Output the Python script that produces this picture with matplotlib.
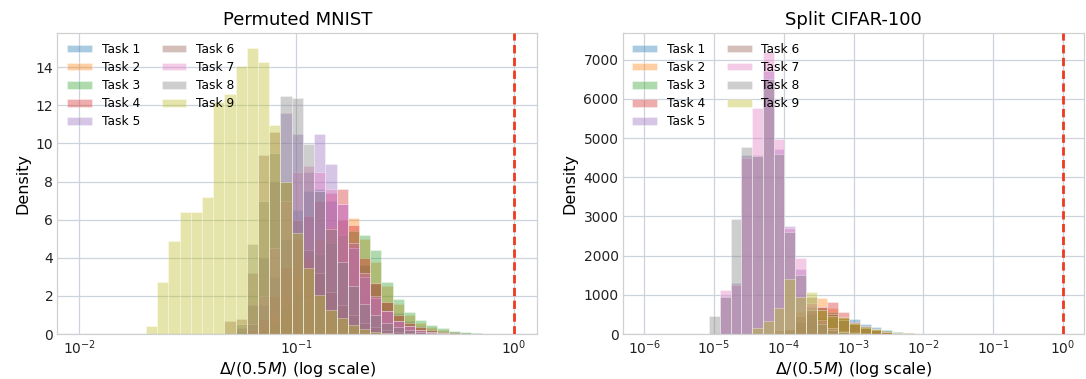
import numpy as np
import matplotlib
matplotlib.use("Agg")
import matplotlib.pyplot as plt

tasks = ["Task 1", "Task 2", "Task 3", "Task 4", "Task 5", "Task 6", "Task 7", "Task 8", "Task 9"]
colors = ["#1f77b4", "#ff7f0e", "#2ca02c", "#d62728", "#9467bd", "#8c564b", "#e377c2", "#7f7f7f", "#bcbd22"]

# ---- Permuted MNIST: 30 log-spaced bins (log10 edge start / width) ----
mnist_log_start = -1.693
mnist_log_width = 0.0516
mnist_t1 = [0, 0, 0, 0, 0, 0, 0, 0, 0.1, 0.5, 1.5, 3.0, 5.0, 6.5, 7.5, 7.6, 7.0, 6.0, 4.8, 3.6, 2.6, 1.7, 1.1, 0.7, 0.4, 0.25, 0.15, 0.08, 0.05, 0.03]
mnist_t2 = [0, 0, 0, 0, 0, 0, 0, 0, 0, 0.1, 0.4, 1.0, 2.0, 3.0, 4.0, 5.0, 5.6, 6.0, 6.1, 5.0, 3.8, 2.5, 1.6, 1.0, 0.6, 0.35, 0.2, 0.1, 0.05, 0.02]
mnist_t3 = [0, 0, 0, 0, 0, 0, 0, 0, 0, 0, 0.2, 0.6, 1.4, 2.4, 3.4, 4.2, 4.8, 5.2, 5.4, 5.2, 4.4, 2.72, 1.84, 1.14, 0.74, 0.47, 0.33, 0.18, 0.1, 0.07]
mnist_t4 = [0, 0, 0, 0, 0, 0, 0, 0, 0, 0.2, 0.8, 2.0, 3.5, 5.0, 6.2, 7.0, 7.4, 7.6, 5.7, 4.0, 2.7, 1.7, 1.0, 0.6, 0.35, 0.2, 0.1, 0.05, 0.02, 0]
mnist_t5 = [0, 0, 0, 0, 0, 0, 0, 0, 0.3, 1.5, 4.0, 8.0, 11.6, 10.5, 8.5, 10.5, 8.9, 6.8, 4.5, 3.0, 1.9, 1.2, 0.7, 0.4, 0.2, 0.1, 0.05, 0, 0, 0]
mnist_t6 = [0, 0, 0, 0, 0, 0, 0, 0.7, 0.8, 3.2, 9.4, 10.6, 8.0, 6.0, 4.4, 3.2, 2.2, 1.5, 1.0, 0.6, 0.35, 0.2, 0.1, 0.05, 0, 0, 0, 0, 0, 0]
mnist_t7 = [0, 0, 0, 0, 0, 0, 0, 0, 0, 0.5, 2.0, 4.5, 7.0, 8.5, 8.8, 8.5, 7.6, 6.8, 4.8, 3.2, 2.0, 1.2, 0.7, 0.4, 0.2, 0.1, 0.05, 0, 0, 0]
mnist_t8 = [0, 0, 0, 0, 0, 0, 0, 0, 0.5, 4.7, 7.0, 9.5, 12.5, 12.4, 9.95, 7.5, 5.5, 3.8, 2.5, 1.6, 1.0, 0.6, 0.35, 0.2, 0.1, 0.05, 0, 0, 0, 0]
mnist_t9 = [0.44, 2.72, 4.86, 6.39, 6.39, 7.18, 12.18, 12.58, 14.07, 15.03, 14.28, 10.96, 8.0, 5.3, 3.46, 2.05, 1.26, 0.86, 0.45, 0.25, 0.12, 0.06, 0, 0, 0, 0, 0, 0, 0, 0]

# ---- Split CIFAR-100: 20 log-spaced bins ----
cifar_log_start = -5.073
cifar_log_width = 0.1543
cifar_t1 = [0, 0, 0, 0, 0, 0, 0, 50, 150, 300, 400, 420, 400, 374, 246, 170, 100, 55, 25, 10]
cifar_t2 = [0, 0, 0, 0, 0, 0, 30, 100, 570, 612, 926, 654, 400, 250, 160, 100, 60, 30, 15, 5]
cifar_t3 = [0, 0, 0, 0, 0, 0, 0, 60, 300, 500, 600, 550, 420, 290, 200, 140, 90, 50, 25, 10]
cifar_t4 = [0, 0, 0, 0, 0, 0, 0, 50, 300, 500, 700, 824, 569, 300, 200, 120, 70, 35, 15, 5]
cifar_t5 = [0, 977, 1308, 4562, 4579, 6703, 4732, 2761, 1657, 700, 300, 150, 80, 40, 20, 0, 0, 0, 0, 0]
cifar_t6 = [0, 0, 0, 0, 0, 0, 100, 128, 450, 952, 700, 500, 350, 250, 160, 100, 60, 30, 12, 0]
cifar_t7 = [0, 1121, 1250, 4500, 5769, 7196, 4987, 2700, 1929, 800, 350, 150, 60, 30, 0, 0, 0, 0, 0, 0]
cifar_t8 = [459, 950, 2931, 4775, 4550, 6500, 4600, 2600, 1500, 600, 250, 100, 50, 0, 0, 0, 0, 0, 0, 0]
cifar_t9 = [0, 0, 0, 0, 150, 331, 671, 1402, 952, 1079, 612, 450, 442, 272, 180, 120, 60, 30, 15, 0]

mnist_series = [mnist_t1, mnist_t2, mnist_t3, mnist_t4, mnist_t5, mnist_t6, mnist_t7, mnist_t8, mnist_t9]
cifar_series = [cifar_t1, cifar_t2, cifar_t3, cifar_t4, cifar_t5, cifar_t6, cifar_t7, cifar_t8, cifar_t9]

mnist_yticks = [0, 2, 4, 6, 8, 10, 12, 14]
cifar_yticks = [0, 1000, 2000, 3000, 4000, 5000, 6000, 7000]

grid_color = "#cdd3dc"
spine_color = "#d0d0d0"

fig = plt.figure(figsize=(10.86, 3.79), dpi=100)
ax1 = fig.add_axes([57.5 / 1086, 45 / 379, 479.5 / 1086, 301 / 379])
ax2 = fig.add_axes([622.7 / 1086, 45 / 379, 461.3 / 1086, 301 / 379])


def draw(ax, series, log_start, log_width, title, xlim, ylim, yticks):
    n = len(series[0])
    edges = 10 ** (log_start + log_width * np.arange(n + 1))
    centers = np.sqrt(edges[:-1] * edges[1:])
    for name, col, vals in zip(tasks, colors, series):
        ax.hist(centers, bins=edges, weights=vals, color=col, alpha=0.38,
                edgecolor="white", linewidth=0.6, label=name, zorder=2)
    ax.axvline(1.0, color="#ee3a1f", linestyle=(0, (3, 1.6)), linewidth=2.0, zorder=3)
    ax.set_xscale("log")
    ax.set_xlim(*xlim)
    ax.set_ylim(*ylim)
    ax.set_yticks(yticks)
    ax.grid(True, which="major", color=grid_color, linewidth=0.9, zorder=0)
    ax.set_axisbelow(True)
    ax.minorticks_off()
    ax.tick_params(length=0, labelsize=10, colors="#222222", pad=3)
    for s in ax.spines.values():
        s.set_color(spine_color)
        s.set_linewidth(0.9)
    ax.set_title(title, fontsize=13, pad=6)
    ax.set_xlabel(r"$\Delta$/(0.5$M$) (log scale)", fontsize=11.5, labelpad=2)
    ax.set_ylabel("Density", fontsize=11.5, labelpad=4)
    ax.legend(ncol=2, loc="upper left", frameon=False, fontsize=8.8,
              handlelength=2.0, handleheight=0.6, columnspacing=1.8,
              labelspacing=0.42, borderaxespad=0.4, borderpad=0.4)


draw(ax1, mnist_series, mnist_log_start, mnist_log_width, "Permuted MNIST",
     (10 ** -2.1, 10 ** 0.107), (0, 15.8), mnist_yticks)
draw(ax2, cifar_series, cifar_log_start, cifar_log_width, "Split CIFAR-100",
     (10 ** -6.31, 10 ** 0.30), (0, 7680), cifar_yticks)

fig.savefig("out.png", dpi=100)
